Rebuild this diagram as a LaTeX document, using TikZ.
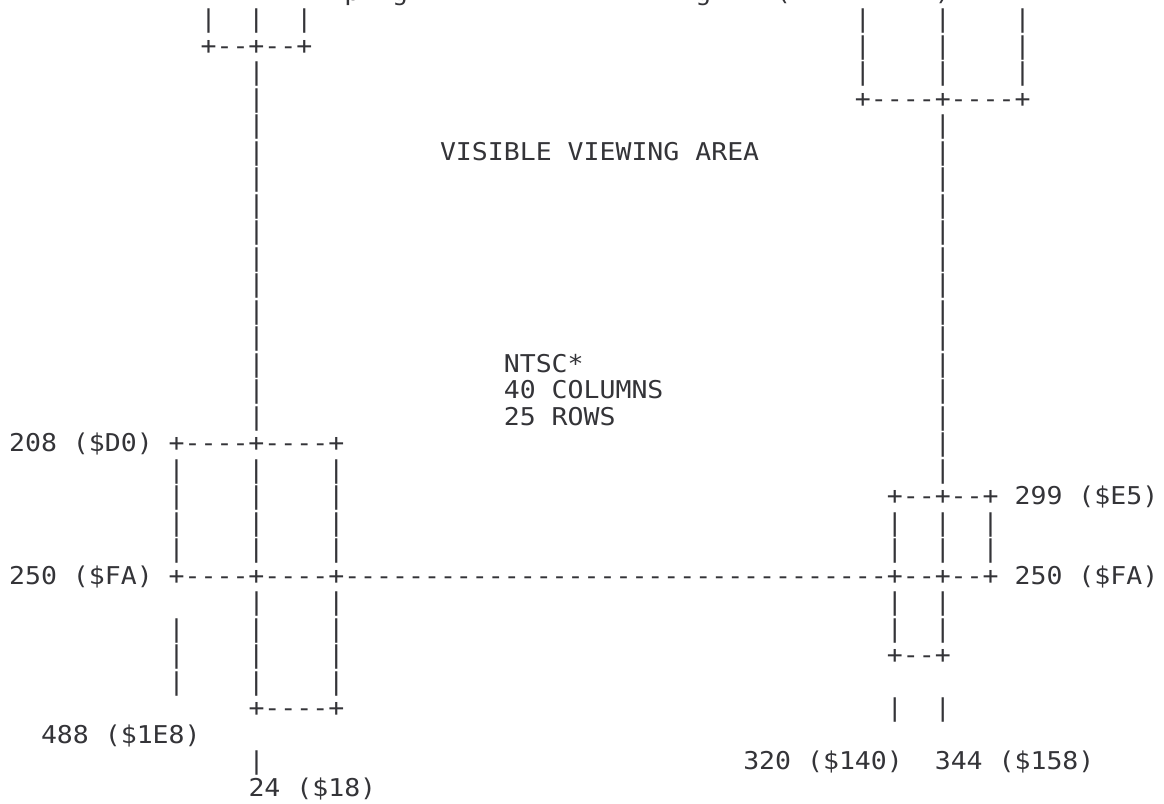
\documentclass[tikz,border=0pt]{standalone}
\usepackage{fontspec}
\setmonofont{DejaVu Sans Mono}[FakeStretch=1.082]
\definecolor{ink}{RGB}{52,52,56}
\tikzset{
  asc/.style={anchor=base west, inner sep=0pt, outer sep=0pt, text=ink,
    font=\ttfamily\fontsize{24.5}{26.5}\selectfont}
}
% column / row to picture coordinates (1 unit = 1 px, y downwards)
\newcommand\cellat[4]{\node[asc] (#1) at ({9.1+15.96*#2},{584-26.5*(22-#3)}) {#4};}
\newcommand\dten{-{}-{}-{}-{}-{}-{}-{}-{}-{}-{}}
\begin{document}
\begin{tikzpicture}[x=1pt,y=-1pt]
\useasboundingbox[fill=white] (0,0) rectangle (1164,803);
% row 0 (cut off at the top: only descenders show)
\cellat{t1}{21}{0}{p}
\cellat{t2}{24}{0}{g}
\cellat{t3}{43}{0}{g}
\cellat{t4}{48}{0}{(}
\cellat{t5}{58}{0}{)}
% rows 1-4: top boxes
\cellat{a1}{12}{1}{|~~|~~|}
\cellat{b1}{53}{1}{|~~~~|~~~~|}
\cellat{a2}{12}{2}{+-{}-+-{}-+}
\cellat{b2}{53}{2}{|~~~~|~~~~|}
\cellat{a3}{15}{3}{|}
\cellat{b3}{53}{3}{|~~~~|~~~~|}
\cellat{a4}{15}{4}{|}
\cellat{b4}{53}{4}{+-{}-{}-{}-+-{}-{}-{}-+}
% rows 5-18: the two long verticals
\foreach \r in {5,...,16}{
  \cellat{lv\r}{15}{\r}{|}
}
\foreach \r in {5,...,18}{
  \cellat{rv\r}{58}{\r}{|}
}
\cellat{vis}{27}{6}{VISIBLE VIEWING AREA}
\cellat{ntsc}{31}{14}{NTSC*}
\cellat{cols}{31}{15}{40 COLUMNS}
\cellat{rows}{31}{16}{25 ROWS}
% row 17
\cellat{l208}{0}{17}{208 (\$D0)}
\cellat{a17}{10}{17}{+-{}-{}-{}-+-{}-{}-{}-+}
% rows 18-21
\foreach \r in {18,...,21}{
  \cellat{lb\r}{10}{\r}{|~~~~|~~~~|}
}
\cellat{b19}{55}{19}{+-{}-+-{}-+}
\cellat{l299}{63}{19}{299 (\$E5)}
\cellat{b20}{55}{20}{|~~|~~|}
\cellat{b21}{55}{21}{|~~|~~|}
% row 22
\cellat{l250a}{0}{22}{250 (\$FA)}
\cellat{a22}{10}{22}{+-{}-{}-{}-+-{}-{}-{}-+}
\cellat{h22}{21}{22}{\dten\dten\dten-{}-{}-{}-{}}
\cellat{b22}{55}{22}{+-{}-+-{}-+}
\cellat{l250b}{63}{22}{250 (\$FA)}
% rows 23-27
\cellat{a23}{15}{23}{|~~~~|}
\cellat{b23}{55}{23}{|~~|}
\cellat{a24}{10}{24}{|~~~~|~~~~|}
\cellat{b24}{55}{24}{|~~|}
\cellat{a25}{10}{25}{|~~~~|~~~~|}
\cellat{b25}{55}{25}{+-{}-+}
\cellat{a26}{10}{26}{|~~~~|~~~~|}
\cellat{a27}{15}{27}{+-{}-{}-{}-+}
\cellat{b27}{55}{27}{|~~|}
% rows 28-30
\cellat{l488}{2}{28}{488 (\$1E8)}
\cellat{a29}{15}{29}{|}
\cellat{l320}{46}{29}{320 (\$140)}
\cellat{l344}{58}{29}{344 (\$158)}
\cellat{l24}{15}{30}{24 (\$18)}
\end{tikzpicture}
\end{document}
